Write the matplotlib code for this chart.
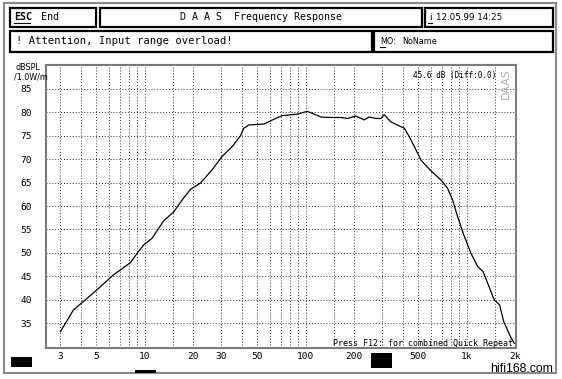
import matplotlib
matplotlib.use("Agg")
import matplotlib.pyplot as plt
import matplotlib.transforms as mtransforms
from matplotlib.patches import Rectangle
from matplotlib import font_manager

# ---- data ----
freq = [3.0, 3.61, 5.05, 6.4, 8.15, 8.97, 9.86, 11.1, 13.1, 15.2, 17.1, 19.3, 22.2,
        26.2, 30.3, 35.0, 39.4, 41.3, 44.3, 55.1, 60.6, 71.6, 88.6, 102, 110, 124,
        143, 165, 182, 205, 231, 248, 273, 294, 307, 337, 370, 410, 440, 473, 520,
        604, 690, 760, 818, 879, 960, 1063, 1170, 1264, 1362, 1480, 1600, 1700,
        1890, 1975]
spl = [33.2, 37.8, 42.1, 45.3, 47.9, 49.9, 51.7, 53.1, 56.8, 58.8, 61.3, 63.6, 64.9,
       67.7, 70.6, 72.7, 75.0, 76.6, 77.3, 77.5, 78.2, 79.3, 79.6, 80.2, 79.8, 79.0,
       78.9, 78.9, 78.7, 79.2, 78.4, 79.0, 78.7, 78.7, 79.5, 78.0, 77.3, 76.6, 74.8,
       72.7, 69.8, 67.4, 65.6, 63.8, 61.3, 57.7, 53.8, 49.9, 47.1, 46.0, 43.2, 40.0,
       38.9, 35.3, 31.8, 30.7]
yticks = [35, 40, 45, 50, 55, 60, 65, 70, 75, 80, 85]
xtick_vals = [3, 5, 10, 20, 30, 50, 100, 200, 500, 1000, 2000]
xtick_labels = ["3", "5", "10", "20", "30", "50", "100", "200", "500", "1k", "2k"]
xgrid = [3, 4, 5, 6, 7, 8, 9, 10, 15, 20, 30, 40, 50, 60, 70, 80, 90, 100, 150,
         200, 300, 400, 500, 600, 700, 800, 900, 1000, 1500, 2000]

W, H = 562, 379
fig = plt.figure(figsize=(W / 100, H / 100), dpi=100)
fig.patch.set_facecolor("white")
px = mtransforms.Affine2D().scale(1 / W, -1 / H).translate(0, 1) + fig.transFigure

mono = "DejaVu Sans Mono"
names = {f.name for f in font_manager.fontManager.ttflist}
narrow = "Liberation Sans Narrow" if "Liberation Sans Narrow" in names else "Liberation Sans"

# axes
L, R, T, B = 46, 515.5, 65, 348
ax = fig.add_axes([L / W, 1 - B / H, (R - L) / W, (B - T) / H])
ax.set_xscale("log")
ax.set_xlim(2.44, 2010)
ax.set_ylim(29.7, 90.1)
ax.plot(freq, spl, color="black", lw=0.9, zorder=3)
for g in xgrid:
    ax.axvline(g, color="#333333", lw=0.7, ls=(0, (1, 2)), zorder=1)
for g in yticks:
    ax.axhline(g, color="#333333", lw=0.7, ls=(0, (1, 2)), zorder=1)
ax.set_yticks(yticks)
ax.set_yticklabels([str(v) for v in yticks], fontsize=6.8, family=mono)
ax.set_xticks(xtick_vals)
ax.set_xticklabels(xtick_labels, fontsize=6.8, family=mono)
ax.minorticks_off()
ax.tick_params(length=0, pad=3)
ax.tick_params(axis="y", pad=10)
for s in ax.spines.values():
    s.set_color("#7a7a7a")
    s.set_linewidth(1.5)

fig.text(496 / W, 1 - 75.5 / H, "45.6 dB (Diff:0.0)", ha="right", va="center",
         fontsize=5.6, family=mono)
fig.text(513 / W, 1 - 343 / H, "Press F12: for combined Quick Repeat",
         ha="right", va="center", fontsize=6, family=mono, zorder=5)
fig.text(506 / W, 1 - 84 / H, "DAAS", rotation=90, ha="center", va="center",
         fontsize=8, color="#b0b0b0", family="DejaVu Sans")

# outer frame
fig.add_artist(Rectangle((4, 3), 552, 370, transform=px, fill=False,
                         edgecolor="#8a8a8a", lw=1.5))
# header boxes
for (x0, y0, x1, y1) in [(10, 8, 96, 27), (100, 8, 422, 27), (425, 8, 553, 27),
                         (10, 31, 372, 52), (374, 31, 553, 52)]:
    fig.add_artist(Rectangle((x0, y0), x1 - x0, y1 - y0, transform=px, fill=False,
                             edgecolor="black", lw=1.6))

fig.text(14 / W, 1 - 17.5 / H, "ESC", fontsize=7.2, family=mono, weight="bold",
         va="center", ha="left")
fig.add_artist(plt.Line2D([14, 30], [23, 23], transform=px, color="black", lw=0.8))
fig.text(41 / W, 1 - 17.5 / H, "End", fontsize=7.2, family=mono, va="center", ha="left")
fig.text(261 / W, 1 - 17.5 / H, "D A A S  Frequency Response", fontsize=7.2,
         family=mono, va="center", ha="center")
fig.text(429 / W, 1 - 17.5 / H, "i", fontsize=6.5, va="center", ha="left")
fig.add_artist(plt.Line2D([428, 432], [23, 23], transform=px, color="black", lw=0.8))
fig.text(436 / W, 1 - 17.5 / H, "12.05.99 14:25", fontsize=6.3, va="center", ha="left")
fig.text(16 / W, 1 - 41.5 / H, "! Attention, Input range overload!", fontsize=7.6,
         family=mono, va="center", ha="left")
fig.text(380 / W, 1 - 41.5 / H, "MO:", fontsize=5.8, va="center", ha="left")
fig.add_artist(plt.Line2D([380, 385], [47, 47], transform=px, color="black", lw=0.8))
fig.text(402 / W, 1 - 41.5 / H, "NoName", fontsize=5.8, va="center", ha="left")

fig.text(15 / W, 1 - 67 / H, "dBSPL", fontsize=5.8, va="center", ha="left")
fig.text(14 / W, 1 - 77 / H, "/1.0W/m", fontsize=5.8, va="center", ha="left")

# black blocks
for (x0, y0, x1, y1) in [(11, 357, 32, 367), (135, 370, 156, 373), (371, 353, 392, 368)]:
    fig.add_artist(Rectangle((x0, y0), x1 - x0, y1 - y0, transform=px,
                             facecolor="black", edgecolor="none"))

fig.text(553 / W, 1 - 371.5 / H, "hifi168.com", fontsize=8.8, family=narrow,
         va="baseline", ha="right")

fig.savefig("out.png", dpi=100, facecolor="white")
